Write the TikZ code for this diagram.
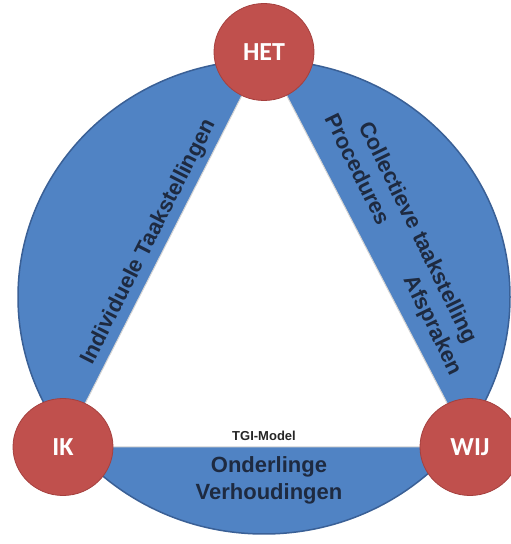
\documentclass[tikz,border=0pt]{standalone}
\usepackage{fontspec}
\setmainfont{Liberation Sans}
\newfontfamily\calfont{Carlito}
\usetikzlibrary{shapes.geometric}
\definecolor{ringblue}{RGB}{80,131,196}
\definecolor{ringedge}{RGB}{58,96,150}
\definecolor{dotred}{RGB}{192,80,77}
\definecolor{dotedge}{RGB}{165,64,62}
\definecolor{labelnavy}{RGB}{30,42,64}
\tikzset{
  pole/.style={ellipse, fill=dotred, draw=dotedge, line width=.8pt,
    minimum width=100pt, minimum height=97pt, text=white,
    font=\calfont\bfseries\fontsize{26}{30}\selectfont},
  side/.style={inner sep=0pt, text=labelnavy, align=center,
    font=\bfseries\fontsize{22}{27}\selectfont},
}
\begin{document}
\begin{tikzpicture}[x=1pt,y=1pt]
      \useasboundingbox (0,0) rectangle (511,544);
      \coordinate (top) at (264,492);
      \coordinate (left) at (63,97);
      \coordinate (right) at (470,97);
      % ring with the white triangle on it
      \draw[fill=ringblue, draw=ringedge, line width=1.5pt] (264,247) ellipse [x radius=246, y radius=237];
      \draw[fill=white, draw=gray!35, line width=1pt] (top) -- (left) -- (right) -- cycle;
      \node[pole] (het) at (top) {HET};
      \node[pole] (ik) at (left) {IK};
      \node[pole] (wij) at (right) {WIJ};
      \node[side, rotate=63] (indiv) at (149,302) {Individuele Taakstellingen};
      \node[side, rotate=-64] (collect) at (405,305) {Collectieve taakstelling\\Procedures\hspace{59pt}Afspraken};
      \node[side] (onder) at (269,64) {Onderlinge\\Verhoudingen};
      \node[inner sep=0pt, text=black!85, font=\bfseries\fontsize{13}{15}\selectfont] (tgi) at (264,108) {TGI-Model};
    \end{tikzpicture}
\end{document}
